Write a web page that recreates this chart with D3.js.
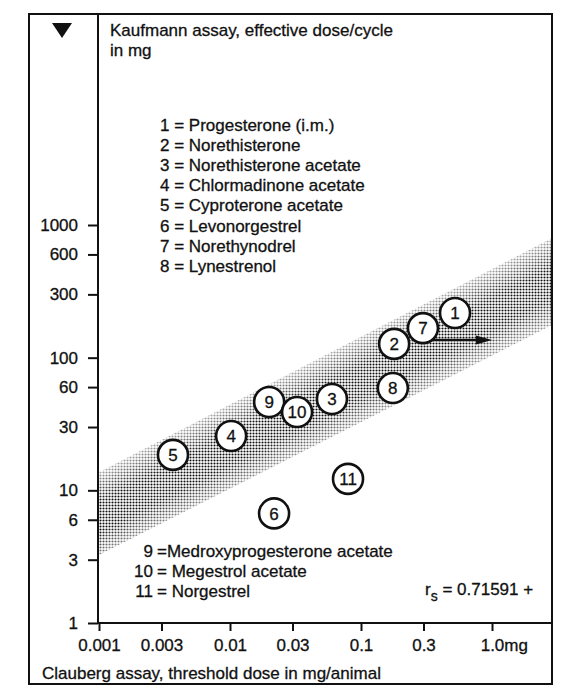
<!DOCTYPE html>
<html>
<head>
<meta charset="utf-8">
<script src="https://cdn.jsdelivr.net/npm/d3@7"></script>
<style>
  body { margin: 0; background: #fff; }
  svg { display: block; font-family: "Liberation Sans", Arial, sans-serif; }
  text { fill: #111; stroke: #111; stroke-width: 0.3px; }
</style>
</head>
<body>
<div id="chart"></div>
<script>
// compounds, numbered as in the legend
const ids = [1, 2, 3, 4, 5, 6, 7, 8, 9, 10, 11];
// Clauberg threshold dose (mg/animal)
const clauberg = [0.522, 0.179, 0.060, 0.0102, 0.00367, 0.0217, 0.297, 0.175, 0.0199, 0.0325, 0.0796];
// Kaufmann effective dose/cycle (mg)
const kaufmann = [217, 127, 48.8, 25.7, 18.5, 6.7, 167, 59, 46.3, 38.9, 12.2];

const legendTop = [
  "1 = Progesterone (i.m.)",
  "2 = Norethisterone",
  "3 = Norethisterone acetate",
  "4 = Chlormadinone acetate",
  "5 = Cyproterone acetate",
  "6 = Levonorgestrel",
  "7 = Norethynodrel",
  "8 = Lynestrenol"
];
const legendBottomNum = ["9", "10", "11"];
const legendBottomName = ["=Medroxyprogesterone acetate", "= Megestrol acetate", "= Norgestrel"];

const xTicks = [0.001, 0.003, 0.01, 0.03, 0.1, 0.3, 1];
const xTickLabels = ["0.001", "0.003", "0.01", "0.03", "0.1", "0.3", "1.0mg"];
const yTicks = [1, 3, 6, 10, 30, 60, 100, 300, 600, 1000];

// shaded band edges
const bandX = [0.001, 2.87];
const bandHigh = [13.7, 797];
const bandLow = [3.25, 176];

// arrow from compound 7 (> 1 mg)
const arrowX = [0.297, 1.0];
const arrowY = 136;

const rs = "0.71591 +";

const W = 565, H = 686;
const box = {left: 29, top: 14, right: 552, bottom: 684};
const axisX = 98, axisY = 623;

const svg = d3.select("#chart").append("svg")
    .attr("width", W)
    .attr("height", H);

const x = d3.scaleLog().domain([0.001, 1]).range([99, 492]);
const y = d3.scaleLog().domain([1, 1000]).range([axisY, 225]);

const defs = svg.append("defs");
defs.append("clipPath").attr("id", "plotclip")
  .append("rect")
    .attr("x", axisX).attr("y", box.top)
    .attr("width", box.right - axisX).attr("height", axisY - box.top);

let pat = defs.append("pattern")
    .attr("id", "dots")
    .attr("patternUnits", "userSpaceOnUse")
    .attr("width", 3).attr("height", 3);
pat.append("circle").attr("cx", 1.5).attr("cy", 1.5).attr("r", 1.05).attr("fill", "#111");

// gradient across the band, lighter toward the edges
let xm = (x(bandX[0]) + x(bandX[1])) / 2;
let t = (xm - x(bandX[0])) / (x(bandX[1]) - x(bandX[0]));
let yUp = y(bandHigh[0]) + t * (y(bandHigh[1]) - y(bandHigh[0]));
let yLo = y(bandLow[0]) + t * (y(bandLow[1]) - y(bandLow[0]));
let dx = x(bandX[1]) - x(bandX[0]), dy = y(bandHigh[1]) - y(bandHigh[0]);
let len = Math.sqrt(dx * dx + dy * dy);
let nx = -dy / len, ny = dx / len;
let gap = (yLo - yUp) * ny;
let grad = defs.append("linearGradient")
    .attr("id", "bandgrad")
    .attr("gradientUnits", "userSpaceOnUse")
    .attr("x1", xm).attr("y1", yUp)
    .attr("x2", xm + nx * gap).attr("y2", yUp + ny * gap);
[[0, 0.35], [0.35, 1], [0.7, 1], [1, 0.45]].forEach(s => {
  grad.append("stop").attr("offset", s[0]).attr("stop-color", "#fff").attr("stop-opacity", s[1]);
});
defs.append("mask").attr("id", "bandmask")
    .attr("maskUnits", "userSpaceOnUse")
    .attr("x", 0).attr("y", 0).attr("width", W).attr("height", H)
  .append("rect")
    .attr("width", W).attr("height", H)
    .attr("fill", "url(#bandgrad)");

// band
let bandPts = [
  [x(bandX[0]), y(bandHigh[0])],
  [x(bandX[1]), y(bandHigh[1])],
  [x(bandX[1]), y(bandLow[1])],
  [x(bandX[0]), y(bandLow[0])]
];
svg.append("g").attr("clip-path", "url(#plotclip)")
  .append("polygon")
    .attr("points", bandPts.map(p => p.join(",")).join(" "))
    .attr("fill", "url(#dots)")
    .attr("mask", "url(#bandmask)");

// frame
svg.append("rect")
    .attr("x", box.left).attr("y", box.top)
    .attr("width", box.right - box.left).attr("height", box.bottom - box.top)
    .attr("fill", "none").attr("stroke", "#111").attr("stroke-width", 2);
svg.append("line")
    .attr("x1", axisX).attr("x2", axisX).attr("y1", box.top).attr("y2", axisY)
    .attr("stroke", "#111").attr("stroke-width", 2);
svg.append("line")
    .attr("x1", axisX).attr("x2", box.right).attr("y1", axisY).attr("y2", axisY)
    .attr("stroke", "#111").attr("stroke-width", 2);

// axes
let yAxis = svg.append("g")
    .attr("transform", "translate(" + axisX + ",0)")
    .call(d3.axisLeft(y).tickValues(yTicks).tickFormat(d3.format("d")).tickSize(10).tickPadding(10));
yAxis.select(".domain").remove();
yAxis.selectAll("line").attr("stroke", "#111").attr("stroke-width", 2);
yAxis.selectAll("text").attr("font-size", 17).attr("font-family", null);

let xAxis = svg.append("g")
    .attr("transform", "translate(0," + axisY + ")")
    .call(d3.axisBottom(x).tickValues(xTicks).tickFormat((d, i) => xTickLabels[i]).tickSize(8).tickPadding(8));
xAxis.select(".domain").remove();
xAxis.selectAll("line").attr("stroke", "#111").attr("stroke-width", 2);
xAxis.selectAll("text").attr("font-size", 17).attr("font-family", null);
// "1.0" centred on its tick, unit hangs to the right
xAxis.selectAll("text").filter((d, i) => i === xTicks.length - 1)
    .each(function() {
      let el = d3.select(this);
      el.text("1.0");
      let half = this.getComputedTextLength() / 2;
      el.text("1.0mg").attr("text-anchor", "start").attr("x", -half);
    });

// titles
svg.append("path")
    .attr("d", "M52,23 L72,23 L62,38 Z")
    .attr("fill", "#111");
svg.append("text").attr("x", 110).attr("y", 36).attr("font-size", 17)
    .text("Kaufmann assay, effective dose/cycle");
svg.append("text").attr("x", 110).attr("y", 56).attr("font-size", 17)
    .text("in mg");
svg.append("text").attr("x", 42).attr("y", 679).attr("font-size", 17)
    .text("Clauberg assay, threshold dose in mg/animal");

// legends
svg.append("g").selectAll("text")
    .data(legendTop)
  .enter()
    .append("text")
    .attr("x", 160)
    .attr("y", (d, i) => 131 + i * 20.1)
    .attr("font-size", 17)
    .text(d => d);

let lb = svg.append("g").selectAll("g")
    .data(legendBottomNum)
  .enter()
    .append("g")
    .attr("transform", (d, i) => "translate(0," + (557 + i * 20) + ")");
lb.append("text").attr("x", 153).attr("text-anchor", "end").attr("font-size", 17).text(d => d);
lb.append("text").attr("x", 157).attr("font-size", 17).text((d, i) => legendBottomName[i]);

let rsText = svg.append("text").attr("x", 425).attr("y", 595).attr("font-size", 17);
rsText.append("tspan").text("r");
rsText.append("tspan").attr("font-size", 14).attr("dy", 6).text("s");
rsText.append("tspan").attr("dy", -6).text(" = " + rs);

// arrow
let ax0 = x(arrowX[0]), ax1 = x(arrowX[1]), ay = y(arrowY);
svg.append("line")
    .attr("x1", ax0).attr("x2", ax1 - 12).attr("y1", ay).attr("y2", ay)
    .attr("stroke", "#111").attr("stroke-width", 2.5);
svg.append("polygon")
    .attr("points", [[ax1, ay], [ax1 - 16, ay - 4.5], [ax1 - 16, ay + 4.5]].map(p => p.join(",")).join(" "))
    .attr("fill", "#111");

// compound circles
let pts = svg.append("g").selectAll("g")
    .data(ids)
  .enter()
    .append("g")
    .attr("transform", (d, i) => "translate(" + x(clauberg[i]) + "," + y(kaufmann[i]) + ")");
pts.append("circle")
    .attr("r", 15)
    .attr("fill", "#fff")
    .attr("stroke", "#111")
    .attr("stroke-width", 2.6);
pts.append("text")
    .attr("text-anchor", "middle")
    .attr("dy", "0.36em")
    .attr("font-size", 17)
    .text(d => d);
</script>
</body>
</html>
